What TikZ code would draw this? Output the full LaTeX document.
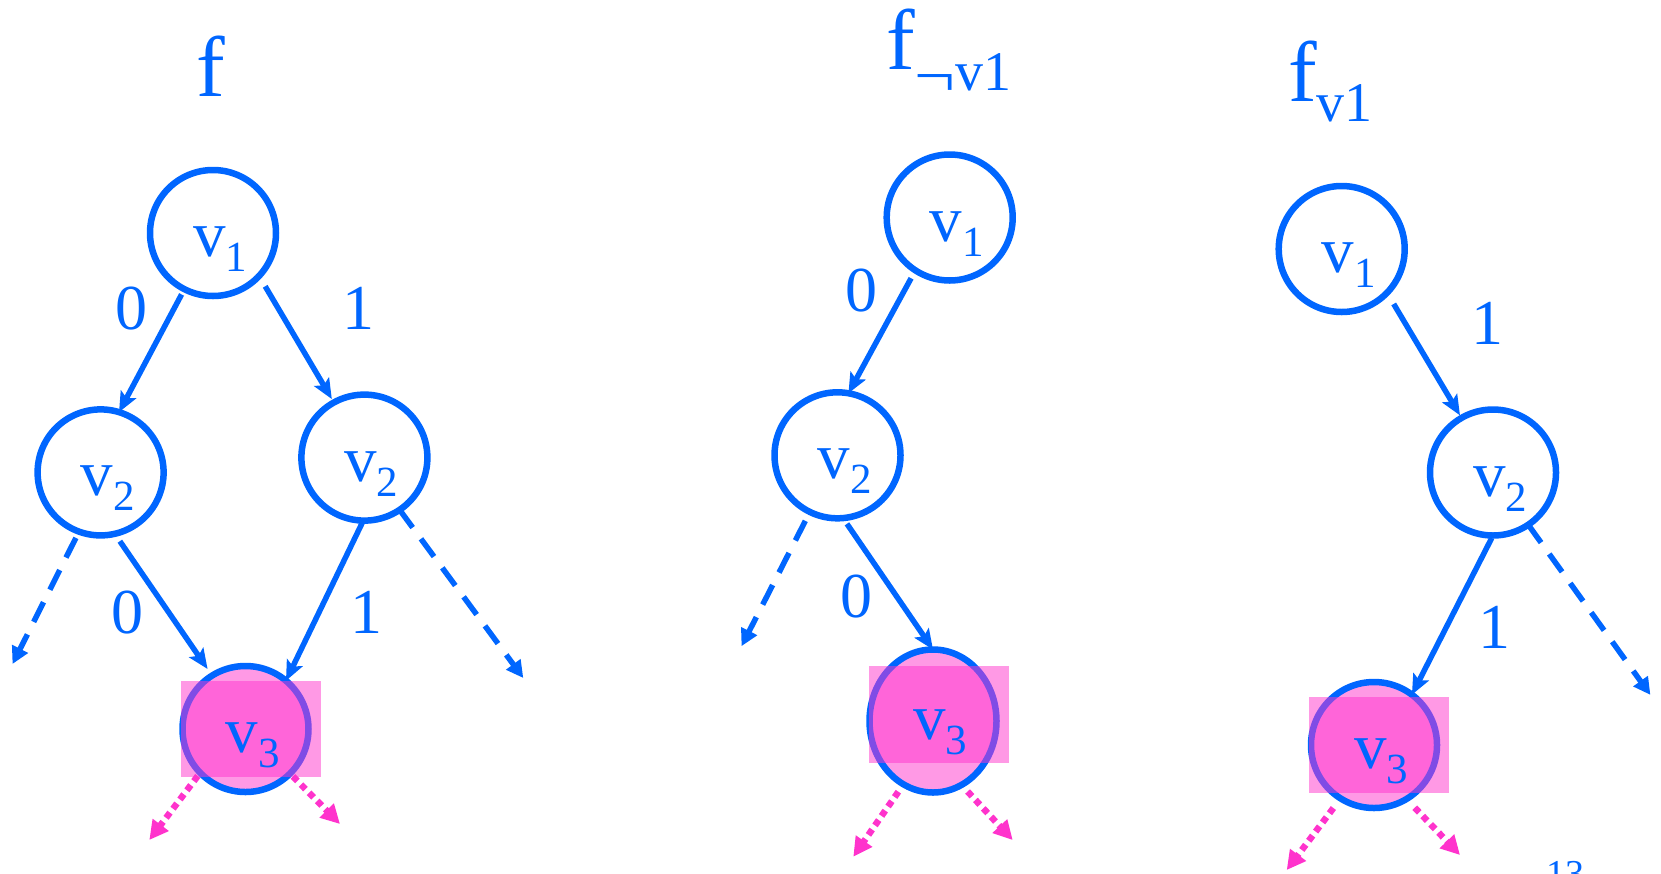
\documentclass[tikz,border=0pt]{standalone}
\usepackage{fontspec}
\setmainfont{Liberation Serif}
\usetikzlibrary{arrows.meta,shapes.geometric}
\definecolor{bddblue}{RGB}{0,102,255}
\definecolor{bddpink}{RGB}{255,51,204}
\newcommand\vsub[2]{\raisebox{#2}[0pt][0pt]{\hspace{14pt}v\raisebox{-15pt}{\fontsize{43}{43}\selectfont #1}}}
\begin{document}
\begin{tikzpicture}[x=1pt,y=-1pt,
  vnode/.style={circle,draw=bddblue,line width=6.5pt,minimum size=126pt,inner sep=0pt,outer sep=0pt,text=bddblue,font=\fontsize{65}{70}\selectfont},
  hlnode/.style={vnode,fill=bddpink,fill opacity=0.5,text opacity=1},
  vtext/.style={inner sep=0pt,outer sep=0pt,text=bddblue,font=\fontsize{65}{70}\selectfont},
  hlrect/.style={fill=bddpink,fill opacity=0.5},
  edge/.style={draw=bddblue,line width=5.5pt,-{Stealth[length=20pt,width=17pt,inset=4pt]}},
  dedge/.style={draw=bddblue,line width=5.5pt,dash pattern=on 22pt off 14pt,-{Triangle[length=17pt,width=17pt]}},
  pedge/.style={draw=bddpink,line width=6.5pt,dash pattern=on 6.5pt off 5pt,-{Triangle[length=19pt,width=19pt]}},
  lbl/.style={inner sep=0pt,text=bddblue,font=\fontsize{64}{70}\selectfont},
  title/.style={inner sep=0pt,anchor=base west,text=bddblue,font=\fontsize{86}{90}\selectfont},
]
\useasboundingbox (0,0) rectangle (1661,873);

% ---------- Tree 1 ----------
\node[title] (t1) at (196,96) {f};
\node[vnode] (a1) at (213,233) {\vsub{1}{-23.5pt}};
\node[vnode] (a2) at (100.6,472.4) {\vsub{2}{-23.5pt}};
\node[vnode] (a3) at (364.4,457.6) {\vsub{2}{-23.5pt}};
\node[hlnode] (a4) at (245.5,729) {};
\fill[hlrect] (181,681) rectangle (321,777);
\node[vtext] (a4t) at (a4) {\vsub{3}{-23.5pt}};
\coordinate (a2e) at (12.5,664);
\coordinate (a3e) at (523.3,678);
\coordinate (a4l) at (149.3,840);
\coordinate (a4r) at (340,824);
\draw[edge,shorten <=6pt] (a1.243) -- (a2.73);
\draw[edge,shorten <=12pt,shorten >=4pt] (a1.317) -- (a3.119);
\draw[edge,shorten <=9pt,shorten >=8pt] (a2.283) -- (a4.122);
\draw[edge] (a3.269) -- (a4.50);
\draw[dedge,shorten <=7pt] (a2.250) -- (a2e);
\draw[dedge] (a3.304) -- (a3e);
\draw[pedge,shorten <=4pt] (a4.224) -- (a4l);
\draw[pedge,shorten <=4pt] (a4.315) -- (a4r);
\node[lbl] (la1) at (131.4,308.3) {0};
\node[lbl] (la2) at (358,308.3) {1};
\node[lbl] (la3) at (127.1,612.3) {0};
\node[lbl] (la4) at (366.5,612.3) {1};

% ---------- Tree 2 ----------
\node[title] (t2) at (886,69) {f\raisebox{-21pt}{\fontsize{56}{56}\selectfont\raisebox{-6pt}{\scalebox{1.3}[1.1]{¬}}v1}};
\node[vnode] (b1) at (949.7,217.5) {\vsub{1}{-23.5pt}};
\node[vnode] (b2) at (837.5,455.3) {\vsub{2}{-23.5pt}};
\node[hlnode,ellipse,minimum width=127pt,minimum height=143pt] (b3) at (933,721) {};
\fill[hlrect] (869,666) rectangle (1009,763);
\node[vtext] (b3t) at (b3) {\vsub{3}{-18pt}};
\coordinate (b2e) at (741.5,646.2);
\coordinate (b3l) at (853.3,856.7);
\coordinate (b3r) at (1012.7,840);
\draw[edge,shorten <=9pt] (b1.237) -- (b2.80);
\draw[edge,shorten <=7pt] (b2.275) -- (b3.north);
\draw[dedge,shorten <=10pt] (b2.244) -- (b2e);
\draw[pedge,shorten <=9pt] (b3.245) -- (b3l);
\draw[pedge,shorten <=9pt] (b3.294) -- (b3r);
\node[lbl] (lb1) at (861,291) {0};
\node[lbl] (lb2) at (856,596.4) {0};

% ---------- Tree 3 ----------
\node[title] (t3) at (1288,101) {f\raisebox{-20pt}{\fontsize{56}{56}\selectfont v1}};
\node[vnode] (c1) at (1341.7,249) {\vsub{1}{-23.5pt}};
\node[vnode] (c2) at (1493,472.5) {\vsub{2}{-23.5pt}};
\node[hlnode] (c3) at (1374,745) {};
\fill[hlrect] (1309,697) rectangle (1449,793);
\node[vtext] (c3t) at (c3) {\vsub{3}{-23.5pt}};
\coordinate (c2e) at (1650.4,694.9);
\coordinate (c3l) at (1286.7,870);
\coordinate (c3r) at (1460,855);
\draw[edge,shorten <=13pt,shorten >=3pt] (c1.316) -- (c2.120);
\draw[edge,shorten <=3pt] (c2.270) -- (c3.53);
\draw[dedge] (c2.304) -- (c2e);
\draw[pedge,shorten <=12pt] (c3.238) -- (c3l);
\draw[pedge,shorten <=12pt] (c3.301) -- (c3r);
\node[lbl] (lc1) at (1487.5,323) {1};
\node[lbl] (lc2) at (1494.7,627) {1};

% page number
\node[inner sep=0pt,anchor=north west,text=bddblue,font=\fontsize{38}{40}\selectfont] (pg) at (1546,861) {13};
\end{tikzpicture}
\end{document}
